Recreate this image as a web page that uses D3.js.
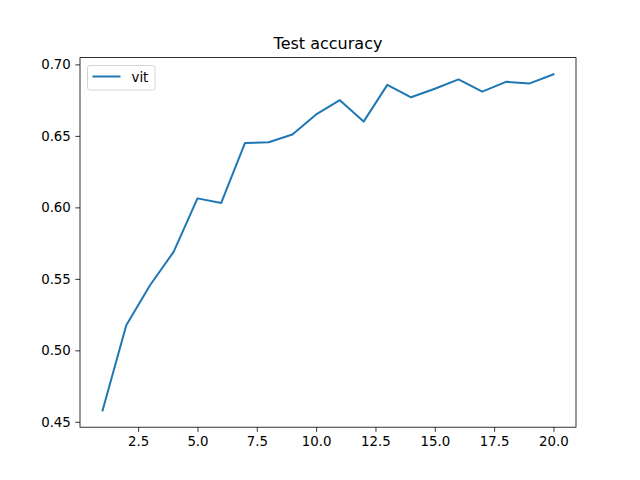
<!DOCTYPE html>
<html><head><meta charset="utf-8">
<script src="https://cdn.jsdelivr.net/npm/d3@7"></script>
<style>body{margin:0;background:#fff}svg{display:block;font-family:"DejaVu Sans",sans-serif}</style>
</head><body><svg id="c" width="640" height="480"></svg>
<script>
const epochs = [1,2,3,4,5,6,7,8,9,10,11,12,13,14,15,16,17,18,19,20];
const vitAcc = [0.458,0.5175,0.5455,0.569,0.6063,0.6031,0.645,0.6455,0.651,0.665,0.675,0.660,0.6857,0.677,0.683,0.6895,0.681,0.6878,0.6867,0.693];
const xTicks = [2.5,5.0,7.5,10.0,12.5,15.0,17.5,20.0];
const yTicks = [0.45,0.50,0.55,0.60,0.65,0.70];
const title = "Test accuracy";
const seriesName = "vit";

const svg = d3.select("#c");
const L=80, R=576, T=57.6, B=427.2;
const xMin=d3.min(epochs), xMax=d3.max(epochs), xm=(xMax-xMin)*0.05;
const yMin=d3.min(vitAcc), yMax=d3.max(vitAcc), ym=(yMax-yMin)*0.05;
const x=d3.scaleLinear().domain([xMin-xm,xMax+xm]).range([L,R]);
const y=d3.scaleLinear().domain([yMin-ym,yMax+ym]).range([B,T]);

const xa=svg.append("g").attr("transform",`translate(0,${B})`)
  .call(d3.axisBottom(x).tickValues(xTicks).tickFormat(d3.format(".1f")).tickSizeInner(4.67).tickSizeOuter(0).tickPadding(4.5));
const ya=svg.append("g").attr("transform",`translate(${L},0)`)
  .call(d3.axisLeft(y).tickValues(yTicks).tickFormat(d3.format(".2f")).tickSizeInner(4.67).tickSizeOuter(0).tickPadding(4.5));
[xa,ya].forEach(a=>{a.select(".domain").remove();a.selectAll("text").attr("font-size","13.33px").attr("font-family","DejaVu Sans").attr("fill","#000");a.selectAll("line").attr("stroke","#000").attr("stroke-width",0.8);});

svg.append("path").datum(epochs.map((e,i)=>[e,vitAcc[i]]))
  .attr("fill","none").attr("stroke","#1f77b4").attr("stroke-width",2).attr("stroke-linejoin","round").attr("stroke-linecap","square")
  .attr("d",d3.line().x(d=>x(d[0])).y(d=>y(d[1])));

svg.append("rect").attr("x",L).attr("y",T).attr("width",R-L).attr("height",B-T)
  .attr("fill","none").attr("stroke","#000").attr("stroke-width",0.8);

svg.append("text").attr("x",(L+R)/2).attr("y",T-9).attr("text-anchor","middle")
  .attr("font-size","16px").attr("fill","#000").text(title);

const lg=svg.append("g");
lg.append("rect").attr("x",87.5).attr("y",65.5).attr("width",67.5).attr("height",24.5).attr("rx",2.5)
  .attr("fill","#fff").attr("fill-opacity",0.8).attr("stroke","#d5d5d5").attr("stroke-width",1);
lg.append("line").attr("x1",92.5).attr("x2",120.5).attr("y1",76.5).attr("y2",76.5).attr("stroke","#1f77b4").attr("stroke-width",2);
lg.append("text").attr("x",131.5).attr("y",81.5).attr("font-size","13.33px").attr("fill","#000").text(seriesName);
</script></body></html>
